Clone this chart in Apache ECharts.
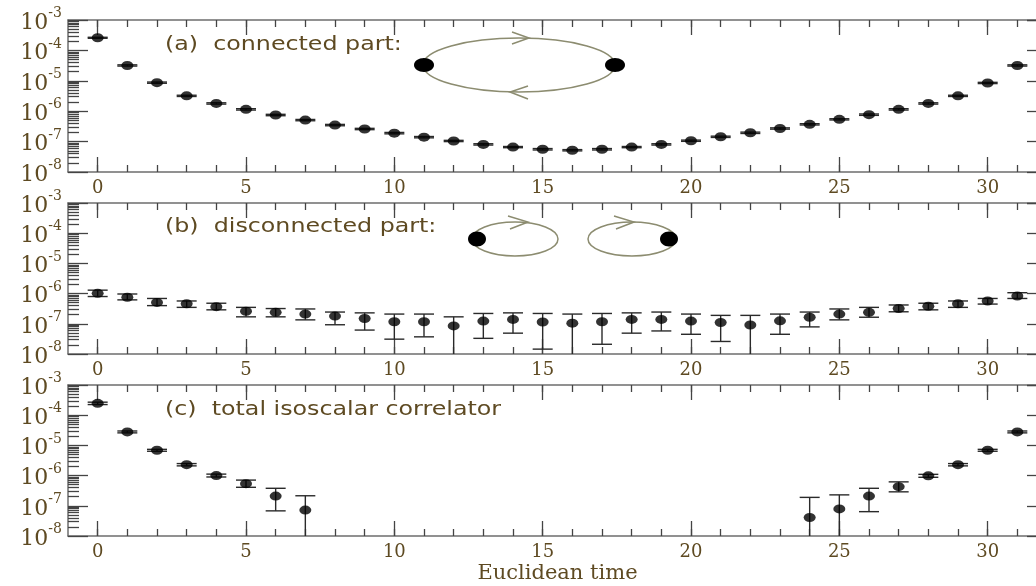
<!DOCTYPE html>
<html>
<head>
<meta charset="utf-8">
<script src="https://cdn.jsdelivr.net/npm/echarts@6/dist/echarts.min.js"></script>
<style>
html,body{margin:0;padding:0;background:#fff}
#main{width:1036px;height:586px}
</style>
</head>
<body>
<div id="main"></div>
<script>
// euclidean time slices
var times = [0,1,2,3,4,5,6,7,8,9,10,11,12,13,14,15,16,17,18,19,20,21,22,23,24,25,26,27,28,29,30,31];

// (a) connected part
var connVal = [2.6e-4,3.2e-5,8.7e-6,3.2e-6,1.8e-6,1.15e-6,7.5e-7,5.1e-7,3.5e-7,2.6e-7,1.9e-7,1.4e-7,1.05e-7,8.1e-8,6.6e-8,5.6e-8,
               5.2e-8,5.6e-8,6.6e-8,8.1e-8,1.07e-7,1.44e-7,1.95e-7,2.7e-7,3.7e-7,5.4e-7,7.7e-7,1.15e-6,1.8e-6,3.2e-6,8.5e-6,3.2e-5];
var connErr = [1e-5,1.5e-6,4e-7,1.5e-7,9e-8,6e-8,4e-8,2.5e-8,1.8e-8,1.3e-8,1e-8,7e-9,5e-9,4e-9,3e-9,3e-9,
               2.5e-9,3e-9,3e-9,4e-9,5e-9,7e-9,1e-8,1.3e-8,1.8e-8,2.5e-8,4e-8,6e-8,9e-8,1.5e-7,4e-7,1.5e-6];

// (b) disconnected part
var discVal = [1.02e-6,7.6e-7,5.1e-7,4.6e-7,3.7e-7,2.6e-7,2.4e-7,2.1e-7,1.8e-7,1.5e-7,1.17e-7,1.17e-7,8.5e-8,1.23e-7,1.4e-7,1.15e-7,
               1.05e-7,1.17e-7,1.4e-7,1.4e-7,1.23e-7,1.1e-7,9.1e-8,1.25e-7,1.65e-7,2.1e-7,2.4e-7,3.2e-7,3.8e-7,4.6e-7,5.7e-7,8.3e-7];
var discHi = [1.3e-6,9.7e-7,6.9e-7,5.7e-7,4.8e-7,3.5e-7,3.2e-7,3.1e-7,2.45e-7,2.3e-7,2.1e-7,2.1e-7,1.7e-7,2.2e-7,2.3e-7,2.2e-7,
              2.1e-7,2.2e-7,2.3e-7,2.45e-7,2.1e-7,1.9e-7,1.9e-7,2.1e-7,2.45e-7,3.1e-7,3.5e-7,4.2e-7,4.8e-7,5.7e-7,6.9e-7,1.07e-6];
var discLo = [8.0e-7,6.2e-7,4.0e-7,3.5e-7,2.9e-7,1.7e-7,1.7e-7,1.35e-7,9.3e-8,6.2e-8,3.1e-8,3.7e-8,null,3.3e-8,4.9e-8,1.45e-8,
              null,2.1e-8,4.9e-8,5.8e-8,4.5e-8,2.6e-8,null,4.5e-8,7.9e-8,1.35e-7,1.65e-7,2.5e-7,2.9e-7,3.5e-7,4.5e-7,6.9e-7];

// (c) total isoscalar correlator
var totVal = [2.47e-4,2.8e-5,6.9e-6,2.3e-6,1.0e-6,5.4e-7,2.1e-7,7.2e-8,
              null,null,null,null,null,null,null,null,null,null,null,null,null,null,null,null,
              4.1e-8,7.9e-8,2.1e-7,4.3e-7,9.8e-7,2.3e-6,6.9e-6,2.8e-5];
var totHi = [2.7e-4,3.0e-5,7.4e-6,2.5e-6,1.12e-6,7.1e-7,3.8e-7,2.15e-7,
             null,null,null,null,null,null,null,null,null,null,null,null,null,null,null,null,
             1.9e-7,2.3e-7,3.8e-7,6.2e-7,1.1e-6,2.5e-6,7.4e-6,3.0e-5];
var totLo = [2.25e-4,2.6e-5,6.4e-6,2.1e-6,9.0e-7,4.1e-7,6.8e-8,null,
             null,null,null,null,null,null,null,null,null,null,null,null,null,null,null,null,
             null,null,6.4e-8,2.9e-7,8.8e-7,2.1e-6,6.4e-6,2.6e-5];

var xMajorTicks = [0,5,10,15,20,25,30];
var xMinorTicks = times;
var yMin = 1e-8, yMax = 1e-3;
var yMinorLog = [];
for (var d = -8; d < -3; d++) {
  for (var k = 2; k <= 9; k++) yMinorLog.push(d + Math.log10(k));
}

var textColor = '#5e4a22';
var frameColor = '#6e6e6e';
var loopColor = '#8c8c70';

var panels = [
  {top: 20,  height: 152, title: '(a)  connected part:', ty: 45},
  {top: 203, height: 151, title: '(b)  disconnected part:', ty: 227},
  {top: 385, height: 151, title: '(c)  total isoscalar correlator', ty: 410}
];

function errData(vals, los, his) {
  var out = [];
  for (var i = 0; i < times.length; i++) {
    if (vals[i] == null) continue;
    var lo = los[i];
    out.push([times[i], vals[i], lo == null ? yMin : lo, his[i], lo == null ? 0 : 1]);
  }
  return out;
}
function ptData(vals) {
  var out = [];
  for (var i = 0; i < times.length; i++) {
    if (vals[i] != null) out.push([times[i], vals[i]]);
  }
  return out;
}

var connLo = connVal.map(function (v, i) { return v - connErr[i]; });
var connHi = connVal.map(function (v, i) { return v + connErr[i]; });
var sets = [
  {pts: ptData(connVal), err: errData(connVal, connLo, connHi)},
  {pts: ptData(discVal), err: errData(discVal, discLo, discHi)},
  {pts: ptData(totVal), err: errData(totVal, totLo, totHi)}
];

function renderErr(params, api) {
  var t = api.value(0);
  var pHi = api.coord([t, api.value(3)]);
  var pLo = api.coord([t, api.value(2)]);
  var w = 10;
  var st = {stroke: '#2a2a2a', lineWidth: 1.4};
  var ch = [
    {type: 'line', shape: {x1: pHi[0], y1: pHi[1], x2: pLo[0], y2: pLo[1]}, style: st},
    {type: 'line', shape: {x1: pHi[0] - w, y1: pHi[1], x2: pHi[0] + w, y2: pHi[1]}, style: st}
  ];
  if (api.value(4)) {
    ch.push({type: 'line', shape: {x1: pLo[0] - w, y1: pLo[1], x2: pLo[0] + w, y2: pLo[1]}, style: st});
  }
  return {type: 'group', children: ch};
}

var grids = [], xAxes = [], yAxes = [], series = [];
panels.forEach(function (p, i) {
  grids.push({left: 68, right: -11, top: p.top, height: p.height, outerBoundsMode: 'none', containLabel: false});
  var lineSty = {show: true, onZero: false, lineStyle: {color: frameColor, width: 1.5}};
  var tickSty = {color: '#444', width: 1.3};
  function xa(pos, major, labels) {
    return {
      type: 'value', gridIndex: i, position: pos, min: -1, max: 32,
      axisLine: major ? lineSty : {show: false, onZero: false},
      axisTick: {show: true, inside: true, length: major ? 15 : 7, lineStyle: tickSty,
                 customValues: major ? xMajorTicks : xMinorTicks},
      axisLabel: labels ? {show: true, customValues: xMajorTicks, margin: 7, color: textColor,
                           fontFamily: 'DejaVu Serif', fontSize: 18} : {show: false},
      splitLine: {show: false},
      name: (labels && i === 2) ? 'Euclidean time' : '',
      nameLocation: 'middle', nameGap: 27,
      nameTextStyle: {color: textColor, fontFamily: 'DejaVu Serif', fontSize: 21}
    };
  }
  xAxes.push(xa('bottom', true, true), xa('bottom', false, false), xa('top', true, false), xa('top', false, false));
  function yaLog(pos, labels) {
    return {
      type: 'log', logBase: 10, gridIndex: i, position: pos, min: yMin, max: yMax,
      axisLine: lineSty,
      axisTick: {show: true, inside: true, length: 20, lineStyle: tickSty},
      axisLabel: labels ? {
        show: true, margin: 6, color: textColor,
        formatter: function (v) { return '{b|10}{s|' + Math.round(Math.log10(v)) + '}'; },
        rich: {
          b: {fontFamily: 'DejaVu Serif', fontSize: 22, color: textColor, padding: [6, 0, 0, 0]},
          s: {fontFamily: 'DejaVu Serif', fontSize: 14, color: textColor, padding: [0, 0, 13, 0]}
        }
      } : {show: false},
      splitLine: {show: false}
    };
  }
  function yaMinor(pos) {
    return {
      type: 'value', gridIndex: i, position: pos, min: -8, max: -3,
      axisLine: {show: false, onZero: false},
      axisTick: {show: true, inside: true, length: 11, lineStyle: tickSty, customValues: yMinorLog},
      axisLabel: {show: false}, splitLine: {show: false}
    };
  }
  yAxes.push(yaLog('left', true), yaMinor('left'), yaLog('right', false), yaMinor('right'));

  series.push({
    type: 'custom', xAxisIndex: 4 * i, yAxisIndex: 4 * i,
    data: sets[i].err, renderItem: renderErr, encode: {x: 0, y: 1}, z: 2, silent: true
  });
  series.push({
    type: 'scatter', xAxisIndex: 4 * i, yAxisIndex: 4 * i,
    data: sets[i].pts, symbol: 'circle', symbolSize: [12, 9],
    itemStyle: {color: '#000'}, z: 3, silent: true
  });
});

var graphics = [];
panels.forEach(function (p) {
  graphics.push({
    type: 'text', x: 165, y: p.ty, scaleX: 1.25,
    style: {text: p.title, fill: textColor, font: '19px "DejaVu Sans"', textVerticalAlign: 'middle'}
  });
});
var loopSt = {fill: 'none', stroke: loopColor, lineWidth: 1.5};
var dotSt = {fill: '#000'};
graphics.push(
  // connected loop
  {type: 'ellipse', shape: {cx: 519, cy: 65, rx: 96, ry: 27}, style: loopSt},
  {type: 'polyline', shape: {points: [[512, 32], [529, 38], [512, 44]]}, style: loopSt},
  {type: 'polyline', shape: {points: [[528, 86], [510, 92], [528, 99]]}, style: loopSt},
  {type: 'ellipse', shape: {cx: 424, cy: 65, rx: 10, ry: 7}, style: dotSt},
  {type: 'ellipse', shape: {cx: 615, cy: 65, rx: 10, ry: 7}, style: dotSt},
  // disconnected loops
  {type: 'ellipse', shape: {cx: 515, cy: 239, rx: 43, ry: 17}, style: loopSt},
  {type: 'polyline', shape: {points: [[508, 216], [528, 222], [510, 229]]}, style: loopSt},
  {type: 'ellipse', shape: {cx: 477, cy: 239, rx: 9, ry: 7.5}, style: dotSt},
  {type: 'ellipse', shape: {cx: 632, cy: 239, rx: 44, ry: 17}, style: loopSt},
  {type: 'polyline', shape: {points: [[614, 216], [634, 222], [616, 229]]}, style: loopSt},
  {type: 'ellipse', shape: {cx: 669, cy: 239, rx: 9, ry: 7.5}, style: dotSt}
);

var chart = echarts.init(document.getElementById('main'));
chart.setOption({
  animation: false,
  backgroundColor: '#fff',
  grid: grids,
  xAxis: xAxes,
  yAxis: yAxes,
  series: series,
  graphic: graphics
});
</script>
</body>
</html>
